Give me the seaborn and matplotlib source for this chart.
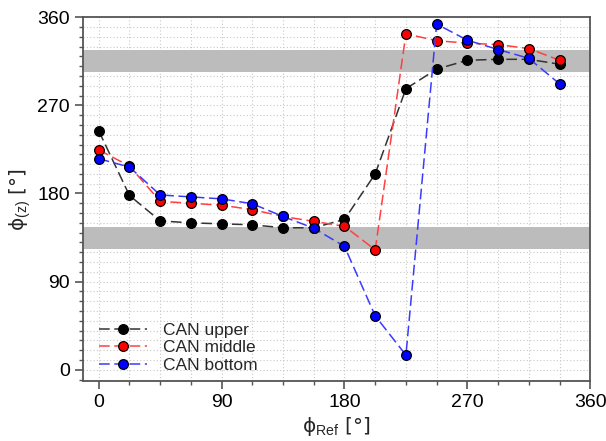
import numpy as np
import pandas as pd
import seaborn as sns
import matplotlib.pyplot as plt
from matplotlib.ticker import MultipleLocator

# reference angle (deg)
phi_ref = [0, 22.5, 45, 67.5, 90, 112.5, 135, 157.5, 180,
           202.5, 225, 247.5, 270, 292.5, 315, 337.5]

can_upper = [244, 178, 152, 150, 149, 148, 145, 145, 153.5,
             200, 287, 307, 316, 317, 317, 312]
can_middle = [224.5, 208, 172, 170, 168, 163.5, 156.5, 151.5, 146.5,
              122.5, 343, 336, 333.5, 332, 328, 316]
can_bottom = [215.5, 207, 178.5, 176.5, 174.5, 169.5, 156.5, 144.5, 126,
              55, 15, 353, 336.5, 327, 318, 292]

labels = ['CAN upper', 'CAN middle', 'CAN bottom']
line_colors = ['#333333', '#ff4040', '#3a3aff']
face_colors = ['black', 'red', 'blue']

# grey bands
bands = [(123.75, 146.25), (303.75, 326.25)]

sns.set_style('white')
plt.rcParams['font.family'] = ['Liberation Sans', 'DejaVu Sans']
plt.rcParams['mathtext.fontset'] = 'custom'
plt.rcParams['mathtext.rm'] = 'Liberation Sans'
plt.rcParams['mathtext.it'] = 'Liberation Sans:italic'

fig = plt.figure(figsize=(6.06, 4.41), dpi=100)
ax = fig.add_axes([0.137, 0.136, 0.837, 0.825])

for lo, hi in bands:
    ax.axhspan(lo, hi, color='#bcbcbc', zorder=1, lw=0)

for vals, lab, lc, fc in zip([can_upper, can_middle, can_bottom], labels, line_colors, face_colors):
    sns.lineplot(x=phi_ref, y=vals, ax=ax, color=lc, label=lab,
                 linestyle=(0, (7, 3)), linewidth=1.1,
                 marker='o', markersize=7, markerfacecolor=fc,
                 markeredgecolor='black', markeredgewidth=0.9, zorder=3)

ax.set_xlim(-11.5, 360)
ax.set_ylim(-11.5, 360)
ax.xaxis.set_major_locator(MultipleLocator(90))
ax.xaxis.set_minor_locator(MultipleLocator(22.5))
ax.yaxis.set_major_locator(MultipleLocator(90))
ax.yaxis.set_minor_locator(MultipleLocator(10))

ax.grid(which='both', linestyle=(0, (1, 2)), color='#c8c8c8', linewidth=0.8, zorder=0)
ax.set_axisbelow(True)

for sp in ax.spines.values():
    sp.set_color('#555555')
    sp.set_linewidth(1.3)

ax.tick_params(which='both', direction='out', colors='#555555', left=True, bottom=True)
ax.tick_params(which='major', length=6, width=1.2, labelsize=14, labelcolor='black')
ax.tick_params(which='minor', length=3, width=1.0)

ax.set_xlabel('\u03d5$_{\\mathrm{Ref}}$ [°]', fontsize=14.5, labelpad=3,
              family=['DejaVu Sans'])
ax.set_ylabel('\u03d5$_{(\\mathrm{z})}$ [°]', fontsize=14.5, labelpad=3,
              family=['DejaVu Sans'])

ax.legend(loc='lower left', bbox_to_anchor=(0.0, -0.02), frameon=False,
          fontsize=12.5, handlelength=2.8, labelspacing=0.12, handletextpad=0.9)

fig.savefig('out.png', dpi=100)
